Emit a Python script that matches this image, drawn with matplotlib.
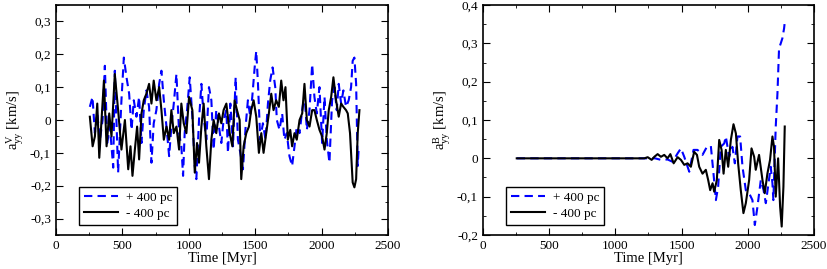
import numpy as np
import matplotlib
matplotlib.use("Agg")
import matplotlib.pyplot as plt
from matplotlib.ticker import MultipleLocator, FuncFormatter

plt.rcParams['font.family'] = ['Liberation Serif', 'DejaVu Serif']
plt.rcParams['mathtext.fontset'] = 'custom'
plt.rcParams['mathtext.rm'] = 'Liberation Serif'
plt.rcParams['mathtext.it'] = 'Liberation Serif'

# left panel: a_yy^V, black = -400 pc, blue = +400 pc
tV_minus = [255, 276, 293, 311, 326, 343, 361, 381, 401, 418, 443, 468, 493, 519, 544, 561, 576, 594,
            611, 626, 644, 661, 681, 701, 719, 736, 756, 777, 794, 812, 832, 852, 869, 887, 907, 927,
            944, 962, 982, 1002, 1027, 1045, 1062, 1077, 1095, 1112, 1132, 1152, 1170, 1187, 1207,
            1227, 1245, 1262, 1283, 1308, 1328, 1345, 1363, 1383, 1395, 1413, 1433, 1453, 1470, 1488,
            1508, 1528, 1546, 1563, 1583, 1603, 1621, 1638, 1658, 1678, 1696, 1713, 1728, 1746, 1764,
            1778, 1796, 1813, 1834, 1854, 1871, 1889, 1909, 1929, 1946, 1964, 1984, 2004, 2022, 2039,
            2054, 2072, 2089, 2109, 2129, 2147, 2164, 2184, 2197, 2214, 2234, 2247, 2260, 2272, 2285]
aV_minus = [0.01, -0.08, -0.05, 0.05, -0.115, 0.0, 0.12, -0.08, 0.02, -0.05, 0.14, 0.03, -0.09, 0.0,
            -0.15, -0.08, -0.17, -0.09, -0.02, -0.12, 0.02, 0.06, 0.08, 0.11, 0.05, 0.12, 0.06, 0.1,
            0.03, -0.06, -0.02, -0.06, 0.03, -0.04, -0.02, -0.09, 0.05, -0.01, -0.04, 0.07, 0.03,
            -0.16, -0.07, -0.13, -0.02, 0.05, -0.08, -0.18, -0.06, 0.0, -0.04, 0.02, -0.01, 0.03,
            0.05, -0.04, -0.08, 0.06, 0.03, 0.0, -0.18, -0.08, -0.04, -0.02, 0.03, 0.06, 0.01, -0.1,
            -0.04, -0.1, -0.04, 0.02, 0.08, 0.03, 0.06, 0.04, 0.12, 0.06, 0.1, -0.06, -0.03, -0.08,
            -0.04, -0.06, 0.0, 0.02, 0.11, 0.0, -0.02, 0.03, 0.03, 0.0, -0.03, -0.05, -0.09, -0.04,
            0.03, 0.07, 0.13, 0.06, 0.01, 0.05, 0.04, 0.03, 0.02, -0.04, -0.19, -0.205, -0.18, -0.04,
            0.03]
tV_plus = [255, 275, 293, 311, 331, 351, 368, 386, 406, 431, 443, 468, 493, 511, 531, 551, 569, 586,
           606, 626, 644, 661, 681, 701, 719, 736, 756, 777, 794, 812, 832, 852, 869, 887, 907, 927,
           944, 957, 969, 987, 1007, 1027, 1045, 1057, 1077, 1095, 1112, 1132, 1152, 1170, 1187,
           1207, 1227, 1245, 1262, 1283, 1295, 1313, 1333, 1353, 1370, 1388, 1408, 1428, 1445, 1463,
           1478, 1496, 1508, 1521, 1538, 1558, 1578, 1596, 1613, 1631, 1651, 1663, 1683, 1703, 1720,
           1738, 1758, 1778, 1796, 1813, 1834, 1854, 1871, 1889, 1909, 1929, 1946, 1964, 1984, 2004,
           2022, 2039, 2059, 2079, 2097, 2114, 2129, 2147, 2164, 2184, 2204, 2222, 2234, 2247, 2260,
           2272, 2280]
aV_plus = [0.04, 0.07, -0.04, 0.02, -0.06, 0.0, 0.165, -0.07, -0.02, -0.145, 0.15, -0.16, 0.06, 0.19,
           0.13, 0.08, -0.03, 0.06, 0.01, 0.07, -0.07, 0.03, 0.09, 0.04, -0.13, -0.01, 0.03, 0.11,
           0.15, 0.06, -0.02, -0.11, -0.02, 0.05, 0.14, -0.04, -0.08, -0.17, -0.04, 0.03, 0.13, 0.01,
           -0.14, -0.18, 0.0, 0.11, 0.01, -0.06, 0.1, 0.06, -0.09, 0.03, -0.02, -0.07, 0.0, 0.03,
           -0.1, 0.05, -0.08, 0.13, -0.06, -0.1, -0.15, -0.02, 0.06, 0.01, 0.07, 0.16, 0.21, 0.11,
           -0.06, -0.01, -0.06, 0.05, 0.12, 0.16, 0.1, 0.0, -0.03, 0.02, -0.06, -0.04, -0.11, -0.14,
           -0.08, -0.02, -0.04, 0.03, 0.08, -0.03, 0.03, 0.17, 0.07, 0.02, 0.1, -0.07, 0.07, -0.06,
           -0.13, 0.06, 0.1, 0.03, 0.11, 0.05, 0.09, 0.04, 0.06, 0.1, 0.18, 0.19, 0.11, -0.14, -0.08]

# right panel: a_yy^B
tB_minus = [255, 600, 1000, 1219, 1244, 1274, 1294, 1319, 1344, 1369, 1394, 1415, 1440, 1470, 1495,
            1520, 1545, 1570, 1595, 1616, 1633, 1658, 1683, 1701, 1716, 1734, 1746, 1766, 1784, 1802,
            1817, 1834, 1852, 1872, 1892, 1910, 1927, 1947, 1967, 1985, 2010, 2028, 2048, 2060, 2085,
            2111, 2128, 2148, 2168, 2186, 2198, 2211, 2229, 2244, 2256, 2269, 2279]
aB_minus = [0.0, 0.0, 0.0, 0.0, 0.003, -0.004, 0.004, 0.011, 0.004, 0.009, 0.0, 0.011, -0.013, 0.003,
            -0.004, -0.017, -0.013, -0.022, 0.017, 0.009, -0.022, -0.04, -0.03, -0.057, -0.083,
            -0.065, -0.087, -0.057, 0.048, 0.022, -0.04, 0.022, -0.022, 0.048, 0.089, 0.065, -0.013,
            -0.083, -0.143, -0.117, -0.057, 0.026, 0.004, -0.03, 0.009, -0.057, -0.091, -0.04, -0.004,
            0.057, 0.03, -0.1, 0.0, -0.126, -0.178, -0.074, 0.083]
tB_plus = [255, 600, 1000, 1300, 1344, 1394, 1432, 1470, 1495, 1520, 1558, 1590, 1620, 1658, 1691,
           1721, 1741, 1759, 1776, 1796, 1822, 1834, 1859, 1884, 1902, 1922, 1942, 1960, 1985, 2010,
           2035, 2053, 2073, 2098, 2119, 2136, 2153, 2173, 2186, 2193, 2211, 2224, 2236, 2249, 2261,
           2274, 2281]
aB_plus = [0.0, 0.0, 0.0, 0.0, -0.004, -0.003, -0.009, 0.013, 0.026, 0.004, -0.035, 0.022, 0.022,
           0.009, 0.03, 0.032, -0.04, -0.109, -0.074, 0.03, 0.039, 0.057, 0.004, 0.03, -0.013, 0.057,
           0.057, -0.022, -0.083, -0.091, -0.109, -0.174, -0.126, -0.057, -0.083, -0.117, -0.074,
           -0.022, -0.065, -0.109, 0.083, 0.17, 0.287, 0.3, 0.313, 0.339, 0.361]


def comma(v, pos):
    if abs(v) < 1e-9:
        return "0"
    return ("%.1f" % v).replace(".", ",")


def style(ax, ylo, yhi, label):
    ax.set_xlim(0, 2500)
    ax.set_ylim(ylo, yhi)
    ax.xaxis.set_major_locator(MultipleLocator(500))
    ax.xaxis.set_minor_locator(MultipleLocator(250))
    ax.yaxis.set_major_locator(MultipleLocator(0.1))
    ax.yaxis.set_minor_locator(MultipleLocator(0.05))
    ax.yaxis.set_major_formatter(FuncFormatter(comma))
    ax.tick_params(which='both', direction='in', top=True, right=True, labelsize=9.5)
    ax.tick_params(which='major', length=5)
    ax.tick_params(which='minor', length=2.5)
    for s in ax.spines.values():
        s.set_linewidth(1.2)
    ax.set_xlabel("Time [Myr]", fontsize=10.5, labelpad=0)
    ax.set_ylabel(label, fontsize=10.5, labelpad=3)
    leg = ax.legend(loc='lower left', bbox_to_anchor=(0.07, 0.045), fontsize=9.5, fancybox=False,
                    edgecolor='black', framealpha=1, handlelength=2.6, handletextpad=0.6,
                    borderpad=0.35, labelspacing=0.3, borderaxespad=0)
    leg.get_frame().set_linewidth(1.0)


fig = plt.figure(figsize=(8.28, 2.69), dpi=100)
ax1 = fig.add_axes([0.0676, 0.1264, 0.401, 0.855])
ax2 = fig.add_axes([0.5833, 0.1264, 0.3998, 0.855])

ax1.plot(tV_plus, aV_plus, color='#0000ff', ls=(0, (4, 2.5)), lw=1.5, label='+ 400 pc')
ax1.plot(tV_minus, aV_minus, color='black', lw=1.5, label='- 400 pc')
style(ax1, -0.35, 0.35, r'$\mathregular{a^{V}_{yy}}$ [km/s]')

ax2.plot(tB_plus, aB_plus, color='#0000ff', ls=(0, (4, 2.5)), lw=1.5, label='+ 400 pc')
ax2.plot(tB_minus, aB_minus, color='black', lw=1.5, label='- 400 pc')
style(ax2, -0.2, 0.4, r'$\mathregular{a^{B}_{yy}}$ [km/s]')

fig.savefig("out.png", dpi=100)
